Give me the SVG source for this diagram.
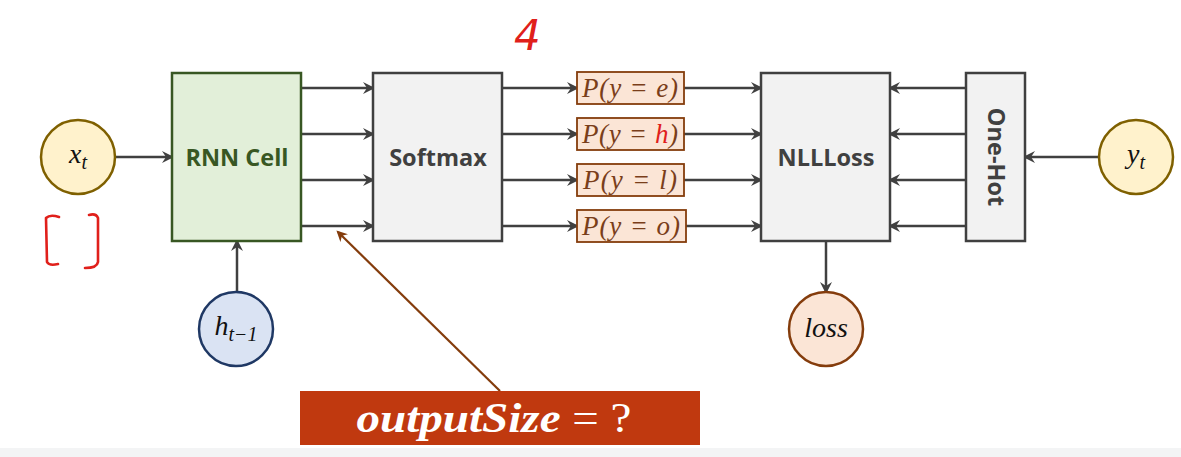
<svg xmlns="http://www.w3.org/2000/svg" width="1181" height="457" viewBox="0 0 1181 457">
<style>
.box{fill:#f2f2f2;stroke:#404040;stroke-width:2.5}
.lbl{font-family:"Open Sans","Noto Sans",sans-serif;font-weight:bold;font-size:23.5px;fill:#404040;text-anchor:middle}
.conn{stroke:#404040;stroke-width:2.5;fill:none;marker-end:url(#ah)}
.pbox{fill:#fbe5d6;stroke:#843c0c;stroke-width:1.8}
.ptxt{font-family:"Liberation Serif","DejaVu Serif",serif;font-style:italic;font-size:27px;fill:#7a3e1a}
.math{font-family:"Liberation Serif","DejaVu Serif",serif;font-style:italic;font-size:28px;fill:#111;text-anchor:middle}
.sub{font-size:20px}
.red{stroke:#e0201b;stroke-width:2.6;fill:none;stroke-linecap:round;stroke-linejoin:round}
</style>
<defs>
<marker id="ah" viewBox="0 0 12 12" refX="10" refY="6" markerWidth="12" markerHeight="12" markerUnits="userSpaceOnUse" orient="auto">
<path d="M0,0 L12,6 L0,12 L4,6 z" fill="#404040"/>
</marker>
<marker id="ahb" viewBox="0 0 10 10" refX="8" refY="5" markerWidth="11" markerHeight="11" markerUnits="userSpaceOnUse" orient="auto">
<path d="M0,0 L10,5 L0,10 L3,5 z" fill="#843c0c"/>
</marker>
</defs>
<rect x="0" y="0" width="1181" height="457" fill="#ffffff"/>
<rect x="0" y="448" width="1181" height="9" fill="#f3f4f5"/>

<g id="connectors">
<line class="conn" x1="115" y1="157" x2="172" y2="157"/>
<line class="conn" x1="237" y1="292" x2="237" y2="241"/>
<line class="conn" x1="301" y1="88" x2="373" y2="88"/>
<line class="conn" x1="301" y1="134" x2="373" y2="134"/>
<line class="conn" x1="301" y1="180" x2="373" y2="180"/>
<line class="conn" x1="301" y1="226" x2="373" y2="226"/>
<line class="conn" x1="502" y1="88" x2="577" y2="88"/>
<line class="conn" x1="502" y1="134" x2="577" y2="134"/>
<line class="conn" x1="502" y1="180" x2="577" y2="180"/>
<line class="conn" x1="502" y1="226" x2="577" y2="226"/>
<line class="conn" x1="684" y1="88" x2="761" y2="88"/>
<line class="conn" x1="684" y1="134" x2="761" y2="134"/>
<line class="conn" x1="684" y1="180" x2="761" y2="180"/>
<line class="conn" x1="686" y1="226" x2="761" y2="226"/>
<line class="conn" x1="966" y1="88" x2="890" y2="88"/>
<line class="conn" x1="966" y1="134" x2="890" y2="134"/>
<line class="conn" x1="966" y1="180" x2="890" y2="180"/>
<line class="conn" x1="966" y1="226" x2="890" y2="226"/>
<line class="conn" x1="1098" y1="157" x2="1025" y2="157"/>
<line class="conn" x1="826" y1="241" x2="826" y2="292"/>
<line x1="500" y1="391" x2="338" y2="232" stroke="#843c0c" stroke-width="2.2" marker-end="url(#ahb)"/>
</g>

<g id="xt">
<circle cx="78" cy="157" r="37" fill="#fff2cc" stroke="#7f6000" stroke-width="2.5"/>
<text class="math" x="78" y="163">x<tspan class="sub" dy="6">t</tspan></text>
</g>

<g id="rnn">
<rect x="172" y="73" width="129" height="168" fill="#e2efd9" stroke="#385723" stroke-width="2.5"/>
<text class="lbl" x="237" y="166" style="fill:#385723">RNN Cell</text>
</g>

<g id="ht1">
<circle cx="236" cy="329" r="37" fill="#dae3f3" stroke="#1f3864" stroke-width="2.5"/>
<text class="math" x="236" y="335">h<tspan class="sub" dy="6">t−1</tspan></text>
</g>

<g id="softmax">
<rect class="box" x="373" y="73" width="129" height="168"/>
<text class="lbl" x="438" y="166">Softmax</text>
</g>

<g id="pe">
<rect class="pbox" x="577" y="72" width="107" height="32"/>
<text class="ptxt" x="582" y="97" textLength="96" lengthAdjust="spacing">P(y = e)</text>
</g>
<g id="ph">
<rect class="pbox" x="577" y="118" width="107" height="32"/>
<text class="ptxt" x="582" y="143" textLength="96" lengthAdjust="spacing">P(y = <tspan fill="#e0201b">h</tspan>)</text>
</g>
<g id="pl">
<rect class="pbox" x="577" y="164" width="107" height="32"/>
<text class="ptxt" x="583" y="189" textLength="94" lengthAdjust="spacing">P(y = l)</text>
</g>
<g id="po">
<rect class="pbox" x="577" y="210" width="109" height="32"/>
<text class="ptxt" x="582" y="235" textLength="98" lengthAdjust="spacing">P(y = o)</text>
</g>

<g id="nllloss">
<rect class="box" x="761" y="73" width="129" height="168"/>
<text class="lbl" x="826" y="166">NLLLoss</text>
</g>

<g id="onehot">
<rect class="box" x="966" y="73" width="59" height="168"/>
<text class="lbl" transform="translate(996,157) rotate(90)" x="0" y="8.5">One-Hot</text>
</g>

<g id="yt">
<circle cx="1136" cy="157" r="37" fill="#fff2cc" stroke="#7f6000" stroke-width="2.5"/>
<text class="math" x="1136" y="163">y<tspan class="sub" dy="6">t</tspan></text>
</g>

<g id="loss">
<circle cx="826" cy="329" r="37" fill="#fbe5d6" stroke="#843c0c" stroke-width="2.5"/>
<text class="math" x="826" y="337">loss</text>
</g>

<g id="outputsize">
<rect x="300" y="391" width="400" height="54" fill="#c0390f"/>
<text x="494" y="432" text-anchor="middle" textLength="275" lengthAdjust="spacingAndGlyphs" font-family="Liberation Serif, DejaVu Serif, serif" font-size="42" fill="#ffffff"><tspan font-style="italic" font-weight="bold">outputSize</tspan> = ?</text>
</g>

<g id="annotations">
<text x="514" y="50" font-family="DejaVu Sans, sans-serif" font-style="italic" font-weight="200" font-size="42" fill="#e0201b">4</text>
<path class="red" d="M59,217 Q50,214 46,218 L47,262 Q49,266 58,264"/>
<path class="red" d="M89,215 Q96,213 98,218 L98,262 Q97,268 85,268"/>
</g>
</svg>
